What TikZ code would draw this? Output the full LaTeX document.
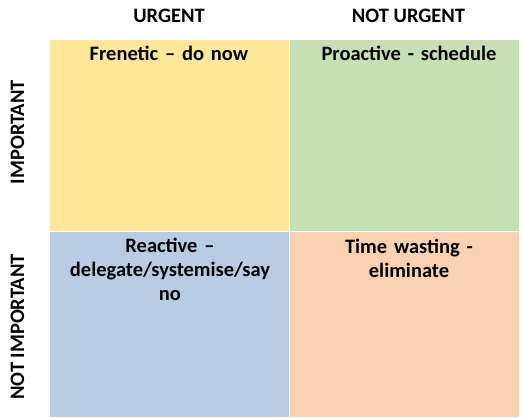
\documentclass[tikz,border=0pt]{standalone}
\usepackage{fontspec}
\setmainfont{Carlito}
\begin{document}
\begin{tikzpicture}[x=1pt,y=-1pt,
  head/.style={font=\bfseries\fontsize{20.5}{24}\selectfont,inner sep=0pt,anchor=base},
  side/.style={font=\bfseries\fontsize{20.5}{24}\selectfont,inner sep=0pt,rotate=90,anchor=base},
  qtext/.style={font=\bfseries\fontsize{20.5}{24}\selectfont,align=center,anchor=base,inner sep=0pt,text width=230pt}]
\useasboundingbox (0,0) rectangle (524,418);
\fill[white] (0,0) rectangle (524,418);
% quadrants
\path[fill={rgb,255:red,255;green,230;blue,153},draw=white,line width=0.6pt] (49,39) rectangle (289,231);
\path[fill={rgb,255:red,197;green,224;blue,180},draw=white,line width=0.6pt] (289,39) rectangle (519,231);
\path[fill={rgb,255:red,184;green,204;blue,228},draw=white,line width=0.6pt] (49,231) rectangle (289,417);
\path[fill={rgb,255:red,250;green,210;blue,178},draw=white,line width=0.6pt] (289,231) rectangle (519,417);
% column headings
\node[head] (urg) at (169,22.7) {URGENT};
\node[head] (nurg) at (408.5,22.7) {NOT URGENT};
% row headings
\node[side] (imp) at (24,132) {IMPORTANT};
\node[side] (nimp) at (24,327) {NOT IMPORTANT};
% quadrant texts
\node[qtext] (q1) at (169,60) {Frenetic – do now};
\node[qtext] (q2) at (409,60) {Proactive - schedule};
\node[qtext] (q3) at (170,252.7) {Reactive –\\delegate/systemise/say\\no};
\node[qtext] (q4) at (409,253) {Time wasting -\\eliminate};
\end{tikzpicture}
\end{document}
